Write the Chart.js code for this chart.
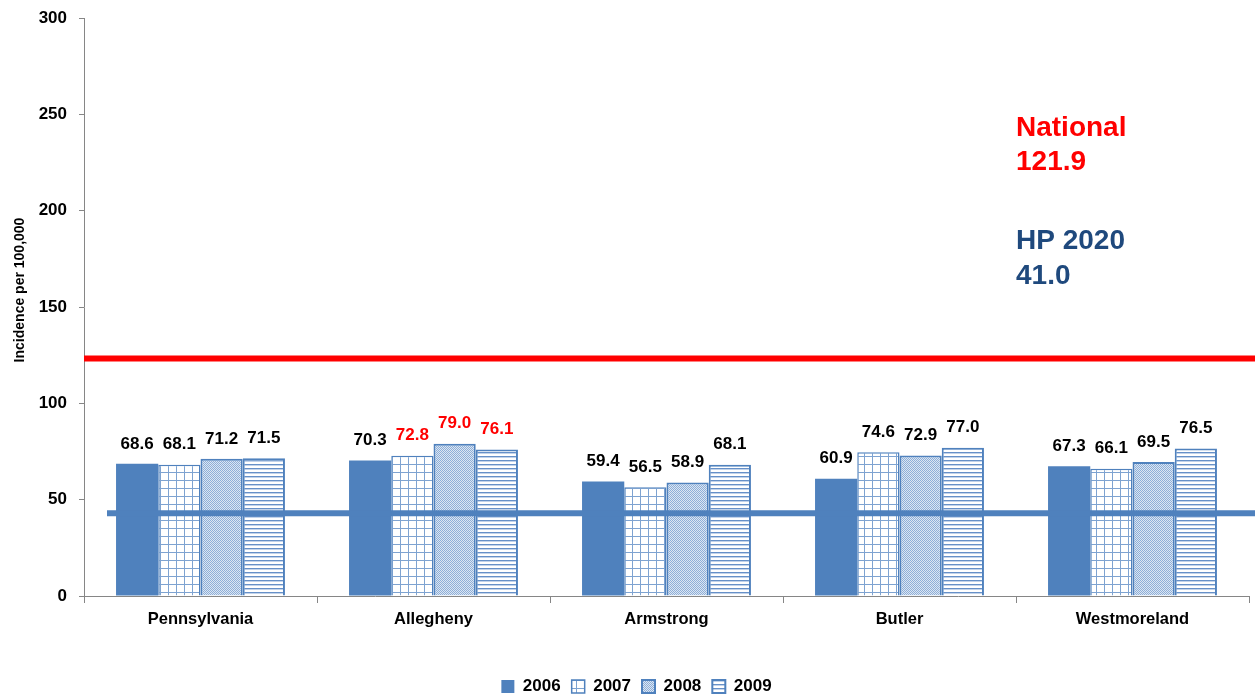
<!DOCTYPE html>
<html>
<head>
<meta charset="utf-8">
<script src="https://cdn.jsdelivr.net/npm/chart.js@4"></script>
<style>
  html, body { margin: 0; padding: 0; background: #fff; }
  #wrap { width: 1255px; height: 696px; }
</style>
</head>
<body>
<div id="wrap"><canvas id="incidenceChart" width="1255" height="696"></canvas></div>
<script>
const counties = ["Pennsylvania", "Allegheny", "Armstrong", "Butler", "Westmoreland"];
const years = ["2006", "2007", "2008", "2009"];
const values2006 = [68.6, 70.3, 59.4, 60.9, 67.3];
const values2007 = [68.1, 72.8, 56.5, 74.6, 66.1];
const values2008 = [71.2, 79.0, 58.9, 72.9, 69.5];
const values2009 = [71.5, 76.1, 68.1, 77.0, 76.5];
const yTicks = [0, 50, 100, 150, 200, 250, 300];
const yTitle = "Incidence per 100,000";

// reference lines (level) and their labels
const nationalLevel = 123.3;
const hp2020Level = 43.0;
const nationalLabel = ["National", "121.9"];
const hp2020Label = ["HP 2020", "41.0"];

// labels drawn in red (Allegheny 2007-2009)
const redLabelCounty = "Allegheny";
const redLabelYears = ["2007", "2008", "2009"];

const BLUE = "#4F81BD";
const FONT = "'Liberation Sans', Arial, sans-serif";

function makePattern(w, h, paint) {
    const c = document.createElement("canvas");
    c.width = w;
    c.height = h;
    const g = c.getContext("2d");
    paint(g);
    return document.getElementById("incidenceChart").getContext("2d").createPattern(c, "repeat");
}

// small grid
const gridPattern = makePattern(8, 8, (g) => {
    g.fillStyle = "#fff";
    g.fillRect(0, 0, 8, 8);
    g.fillStyle = "#7EA3D1";
    g.fillRect(0, 0, 8, 1);
    g.fillRect(0, 0, 1, 8);
});

// fine checker, light blue overall
const dotPattern = makePattern(2, 2, (g) => {
    g.fillStyle = "#DCE6F2";
    g.fillRect(0, 0, 2, 2);
    g.fillStyle = "#8DAED8";
    g.fillRect(0, 0, 1, 1);
    g.fillRect(1, 1, 1, 1);
});

// horizontal stripes
const stripePattern = makePattern(4, 4, (g) => {
    g.fillStyle = "#fff";
    g.fillRect(0, 0, 4, 4);
    g.fillStyle = "#6690C8";
    g.fillRect(0, 0, 4, 1);
    g.fillStyle = "#C2D3EA";
    g.fillRect(0, 1, 4, 1);
});

const refLines = {
    id: "refLines",
    afterLayout(chart) {
        // nudge the legend to where it sits in the original
        chart.legend.left += 12;
        chart.legend.right += 12;
    },
    afterDatasetsDraw(chart) {
        const { ctx, chartArea, scales } = chart;
        ctx.save();
        ctx.lineWidth = 6;
        let y = scales.y.getPixelForValue(nationalLevel);
        ctx.strokeStyle = "#FF0000";
        ctx.beginPath();
        ctx.moveTo(chartArea.left, y);
        ctx.lineTo(chart.width, y);
        ctx.stroke();

        y = scales.y.getPixelForValue(hp2020Level);
        ctx.strokeStyle = BLUE;
        ctx.beginPath();
        ctx.moveTo(chartArea.left + 23, y);
        ctx.lineTo(chart.width, y);
        ctx.stroke();

        // value labels above bars
        ctx.font = "bold 17px " + FONT;
        ctx.textAlign = "center";
        ctx.textBaseline = "middle";
        chart.data.datasets.forEach((ds, di) => {
            chart.getDatasetMeta(di).data.forEach((bar, i) => {
                const red = counties[i] === redLabelCounty && redLabelYears.includes(ds.label);
                ctx.fillStyle = red ? "#FF0000" : "#000";
                ctx.fillText(ds.data[i].toFixed(1), bar.x, bar.y - 20);
            });
        });

        // y axis title
        ctx.save();
        ctx.translate(20, 290);
        ctx.rotate(-Math.PI / 2);
        ctx.font = "bold 14px " + FONT;
        ctx.fillStyle = "#000";
        ctx.fillText(yTitle, 0, 0);
        ctx.restore();

        // annotation text
        ctx.textAlign = "left";
        ctx.font = "bold 28px " + FONT;
        ctx.fillStyle = "#FF0000";
        ctx.fillText(nationalLabel[0], 1016, 128);
        ctx.fillText(nationalLabel[1], 1016, 162);
        ctx.fillStyle = "#1F497D";
        ctx.fillText(hp2020Label[0], 1016, 241);
        ctx.fillText(hp2020Label[1], 1016, 276);
        ctx.restore();
    },
};

new Chart(document.getElementById("incidenceChart"), {
    type: "bar",
    data: {
        labels: counties,
        datasets: [
            { label: years[0], data: values2006, backgroundColor: BLUE, borderColor: BLUE, borderWidth: 0 },
            { label: years[1], data: values2007, backgroundColor: gridPattern, borderColor: BLUE, borderWidth: 1.5 },
            { label: years[2], data: values2008, backgroundColor: dotPattern, borderColor: BLUE, borderWidth: 2 },
            { label: years[3], data: values2009, backgroundColor: stripePattern, borderColor: BLUE, borderWidth: 2 },
        ],
    },
    options: {
        responsive: false,
        animation: false,
        devicePixelRatio: 1,
        categoryPercentage: 0.725,
        barPercentage: 1,
        layout: { padding: { top: 18, right: 6, bottom: -9, left: 0 } },
        plugins: {
            legend: {
                position: "bottom",
                labels: {
                    color: "#000",
                    font: { family: FONT, size: 17, weight: "bold" },
                    boxWidth: 13,
                    boxHeight: 13,
                    padding: 11,
                },
            },
            tooltip: { enabled: false },
        },
        scales: {
            x: {
                grid: { drawOnChartArea: false, tickLength: 7, color: "#868686" },
                border: { color: "#868686" },
                ticks: { color: "#000", padding: 7, font: { family: FONT, size: 16.5, weight: "bold" } },
                afterFit: (scale) => { scale.height = 71; },
            },
            y: {
                min: 0,
                max: 300,
                afterBuildTicks: (scale) => { scale.ticks = yTicks.map((v) => ({ value: v })); },
                grid: { drawOnChartArea: false, tickLength: 5, color: "#868686" },
                border: { color: "#868686" },
                ticks: { color: "#000", padding: 12, font: { family: FONT, size: 17, weight: "bold" } },
                afterFit: (scale) => {
                    scale.width = 84;
                    scale.paddingTop = 0;
                    scale.paddingBottom = 0;
                },
            },
        },
    },
    plugins: [refLines],
});
</script>
</body>
</html>
